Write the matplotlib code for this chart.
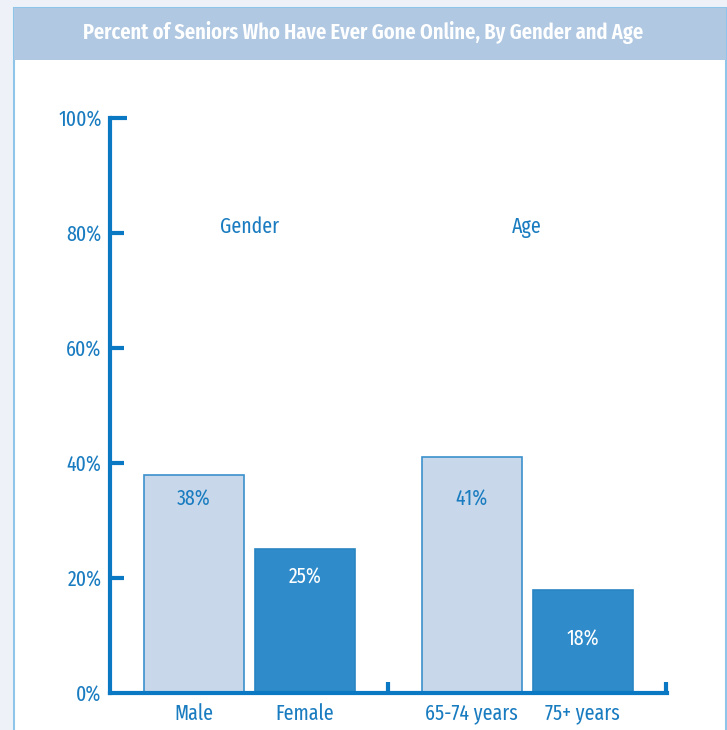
import matplotlib
matplotlib.use("Agg")
import matplotlib.pyplot as plt
from matplotlib.patches import Rectangle

plt.rcParams['font.family'] = ['Fira Sans Extra Condensed', 'Fira Sans Condensed', 'Roboto Condensed',
                               'Liberation Sans Narrow', 'DejaVu Sans']

categories = ['Male', 'Female', '65-74 years', '75+ years']
values = [38, 25, 41, 18]
groups = ['Gender', 'Age']
yticks = [0, 20, 40, 60, 80, 100]

blue = '#0a78c2'
txt = '#1a7cc0'
light = '#c8d8ea'
dark = '#2f8bc9'

fig = plt.figure(figsize=(7.27, 7.30), dpi=100)
fig.patch.set_facecolor('#eef2f8')

# panel: white body, header band, borders
fig.patches.append(Rectangle((14/727, -0.01), 712/727, 1.01 - 8/730, transform=fig.transFigure,
                             facecolor='white', edgecolor='#8ec5e8', lw=1.5, zorder=-2))
fig.patches.append(Rectangle((14/727, 1 - 60/730), 712/727, 52/730, transform=fig.transFigure,
                             facecolor='#b0c8e2', edgecolor='none', zorder=-1))
fig.text(363/727, 1 - 33/730, 'Percent of Seniors Who Have Ever Gone Online, By Gender and Age',
         ha='center', va='center', color='white', fontsize=16, fontweight='semibold')

ax = fig.add_axes([110/727, 37/730, 557/727, 575/730])
ax.patch.set_alpha(0)

pos = [0, 1, 2.5, 3.5]
cols = [light, dark, light, dark]
edges = ['#3b90cd', '#2a84c2', '#3b90cd', '#2a84c2']
ax.bar(pos, values, width=0.9, color=cols, edgecolor=edges, linewidth=1.2, zorder=2)

label_y = [33.6, 20.1, 33.6, 9.3]
for x, v, ly, c in zip(pos, values, label_y, cols):
    ax.text(x, ly, f'{v}%', ha='center', va='center', fontsize=15.5,
            color=txt if c == light else 'white')

for x, g in zip([0.5, 3.0], groups):
    ax.text(x, 81, g, ha='center', va='center', fontsize=15.5, color=txt)

ax.set_xlim(-0.757, 4.26)
ax.set_ylim(0, 100)

for s in ['top', 'right']:
    ax.spines[s].set_visible(False)
for s in ['left', 'bottom']:
    ax.spines[s].set_color(blue)
    ax.spines[s].set_linewidth(3)
    ax.spines[s].set_capstyle('projecting')

ax.set_yticks(yticks)
ax.set_yticklabels([f'{t}%' for t in yticks])
ax.tick_params(axis='y', direction='in', length=10, width=3, color=blue,
               labelcolor=txt, labelsize=15.5, pad=6)
ticks = ax.yaxis.get_major_ticks()
ticks[0].tick1line.set_visible(False)
ticks[-1].tick1line.set_markersize(12)
ax.set_xticks(pos)
ax.set_xticklabels(categories)
ax.tick_params(axis='x', length=0, labelcolor=txt, labelsize=15.5, pad=7)

# group separator ticks on the baseline
for x in [1.75, 4.25]:
    ax.plot([x, x], [0, 2], color=blue, lw=3, solid_capstyle='butt', clip_on=False, zorder=3)

fig.savefig('out.png', dpi=100, facecolor=fig.get_facecolor())
